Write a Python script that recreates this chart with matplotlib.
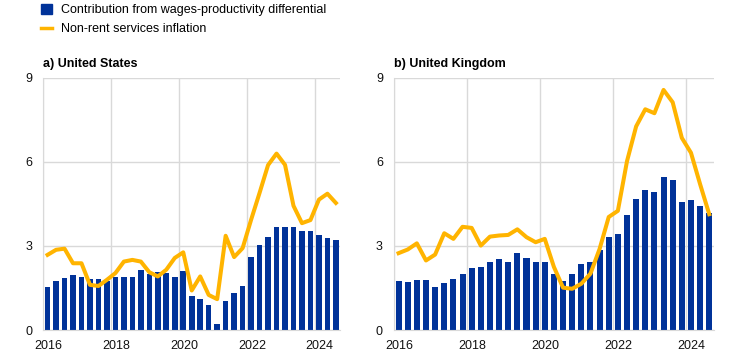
"""Wages-productivity contribution vs non-rent services inflation, US and UK."""

import matplotlib.pyplot as plt
import matplotlib.transforms as mtransforms
import numpy as np

plt.rcParams['font.family'] = ['Liberation Sans', 'DejaVu Sans']

BLUE = '#003299'
YELLOW = '#FFB400'
GRID = '#d9d9d9'

# quarterly data, 2016Q1 - 2024Q3
start_year = 2016
n_quarters = 35

us_wages = [1.54, 1.75, 1.86, 1.95, 1.90, 1.82, 1.82, 1.73, 1.90, 1.90, 1.90, 2.15,
            2.00, 2.07, 2.04, 1.90, 2.11, 1.22, 1.11, 0.89, 0.21, 1.04, 1.32, 1.57,
            2.61, 3.04, 3.33, 3.68, 3.68, 3.68, 3.54, 3.54, 3.40, 3.29, 3.22]
us_services = [2.68, 2.86, 2.90, 2.38, 2.38, 1.61, 1.57, 1.79, 2.03, 2.44, 2.50, 2.44,
               2.06, 1.91, 2.15, 2.57, 2.77, 1.41, 1.91, 1.25, 1.10, 3.36, 2.60, 2.92,
               3.93, 4.89, 5.88, 6.29, 5.89, 4.43, 3.81, 3.92, 4.65, 4.86, 4.53]

uk_wages = [1.74, 1.70, 1.77, 1.77, 1.52, 1.67, 1.81, 1.98, 2.20, 2.23, 2.44, 2.52,
            2.44, 2.73, 2.55, 2.44, 2.41, 1.98, 1.74, 1.98, 2.34, 2.41, 2.87, 3.30,
            3.44, 4.11, 4.68, 5.00, 4.93, 5.46, 5.35, 4.57, 4.64, 4.43, 4.18]
uk_services = [2.74, 2.87, 3.09, 2.48, 2.69, 3.45, 3.25, 3.68, 3.64, 3.01, 3.33, 3.37,
               3.39, 3.59, 3.31, 3.13, 3.25, 2.25, 1.51, 1.47, 1.65, 2.01, 2.89, 4.03,
               4.25, 6.02, 7.26, 7.87, 7.73, 8.56, 8.12, 6.85, 6.32, 5.20, 4.13]

panels = [
    ('a) United States', us_wages, us_services),
    ('b) United Kingdom', uk_wages, uk_services),
]
year_ticks = [2016, 2018, 2020, 2022, 2024]
value_ticks = [0, 3, 6, 9]

quarters = start_year + 0.25 * np.arange(n_quarters) + 0.125

fig = plt.figure(figsize=(7.42, 3.55), dpi=100)
axes = [
    fig.add_axes([0.0584, 0.0704, 0.400, 0.711]),
    fig.add_axes([0.531, 0.0704, 0.431, 0.711]),
]
# year labels sit a little to the right of their gridlines
label_shift = mtransforms.ScaledTranslation(5 / 100, 0, fig.dpi_scale_trans)

for ax, (title, wages, services) in zip(axes, panels):
    ax.set_axisbelow(True)
    ax.bar(quarters, wages, width=0.165, color=BLUE, linewidth=0, zorder=2)
    ax.plot(quarters, services, color=YELLOW, linewidth=2.9, zorder=3,
            solid_joinstyle='round')
    ax.set_xlim(start_year, start_year + n_quarters * 0.25)
    ax.set_ylim(0, 9)
    ax.set_xticks(year_ticks)
    ax.set_xticklabels([str(y) for y in year_ticks])
    ax.set_yticks(value_ticks)
    ax.grid(True, color=GRID, linewidth=1.0)
    ax.tick_params(length=0, labelsize=9, colors='#111111')
    ax.tick_params(axis='x', pad=7)
    ax.tick_params(axis='y', pad=8)
    for lbl in ax.get_xticklabels():
        lbl.set_transform(lbl.get_transform() + label_shift)
    for side in ['top', 'right']:
        ax.spines[side].set_visible(False)
    for side in ['left', 'bottom']:
        ax.spines[side].set_color(GRID)
    ax.text(0.0, 1.03, title, transform=ax.transAxes, fontsize=9,
            fontweight='bold', ha='left', va='bottom')

# legend at the top left
handles = [
    plt.Rectangle((0, 0), 1, 1, color=BLUE),
    plt.Line2D([0], [0], color=YELLOW, linewidth=2.5),
]
fig.legend(handles, ['Contribution from wages-productivity differential',
                     'Non-rent services inflation'],
           loc='upper left', bbox_to_anchor=(0.055, 0.99), frameon=False,
           fontsize=9, handlelength=0.9, handleheight=0.9, handletextpad=0.7,
           labelspacing=0.55, borderaxespad=0, borderpad=0)

fig.savefig('out.png', dpi=100)
plt.close(fig)
